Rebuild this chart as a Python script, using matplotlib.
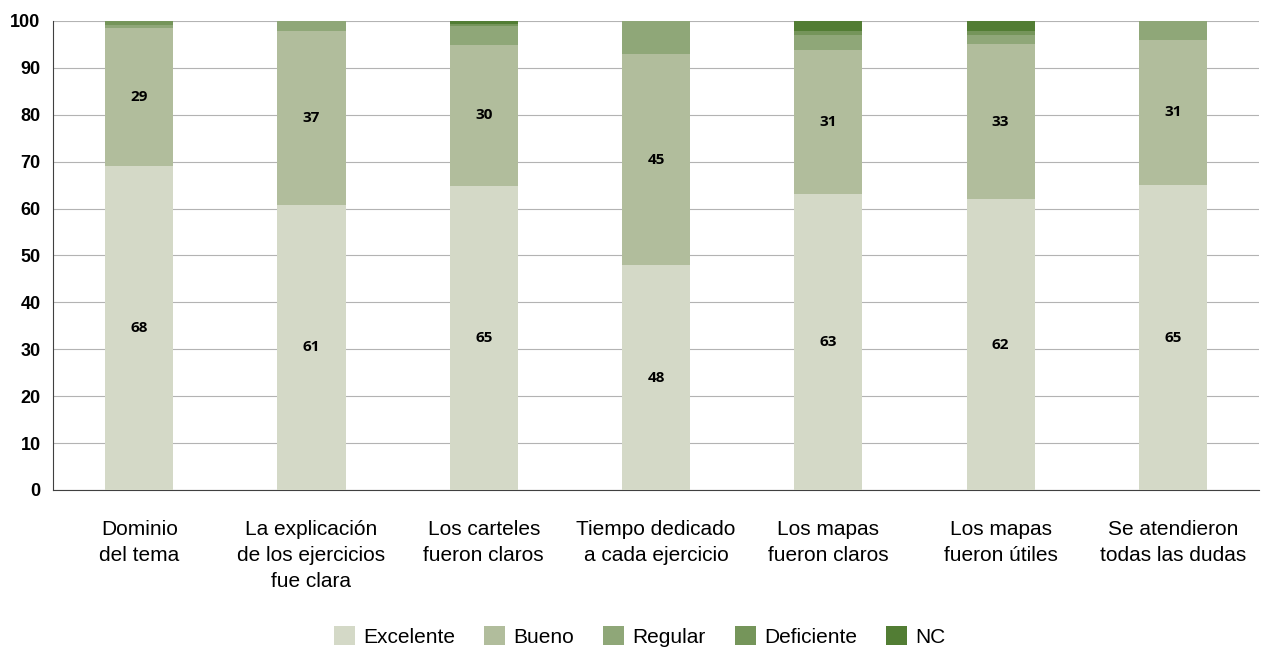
import matplotlib.pyplot as plt
import numpy as np

# Data
categories = ['Dominio\ndel tema', 'La explicación\nde los ejercicios\nfue clara', 'Los carteles\nfueron claros',
              'Tiempo dedicado\na cada ejercicio', 'Los mapas\nfueron claros', 'Los mapas\nfueron útiles',
              'Se atendieron\ntodas las dudas']
series_names = ['Excelente', 'Bueno', 'Regular', 'Deficiente', 'NC']
excelente = [69.0, 60.8, 64.8, 47.9, 63.1, 62.0, 65.0]
bueno = [29.5, 37.0, 30.1, 45.1, 30.7, 33.1, 31.0]
regular = [0.65, 2.2, 4.0, 7.0, 3.1, 1.9, 4.0]
deficiente = [0.85, 0.0, 0.4, 0.0, 0.9, 0.85, 0.0]
nc = [0.0, 0.0, 0.7, 0.0, 2.1, 2.1, 0.0]
excelente_labels = [68, 61, 65, 48, 63, 62, 65]
bueno_labels = [29, 37, 30, 45, 31, 33, 31]

colors = ['#d4d9c7', '#b1bd9c', '#8fa778', '#75955a', '#527d34']

cat_font = ['Liberation Sans', 'DejaVu Sans']

fig = plt.figure(figsize=(12.64, 6.55), dpi=100)
ax = fig.add_axes([0.042, 0.252, 0.954, 0.716])

x = np.arange(len(categories))
width = 0.395
bottom = np.zeros(len(categories))
for name, vals, col in zip(series_names, [excelente, bueno, regular, deficiente, nc], colors):
    ax.bar(x, vals, width, bottom=bottom, color=col, label=name, zorder=3)
    bottom += np.array(vals)

# Data labels for the two big segments
for i in range(len(categories)):
    ax.text(x[i], excelente[i] / 2, str(excelente_labels[i]), ha='center', va='center',
            fontsize=11, fontweight='bold', family=['Open Sans', 'DejaVu Sans'], zorder=4)
    ax.text(x[i], excelente[i] + bueno[i] / 2, str(bueno_labels[i]), ha='center', va='center',
            fontsize=11, fontweight='bold', family=['Open Sans', 'DejaVu Sans'], zorder=4)

ax.set_xlim(-0.5, len(categories) - 0.5)
ax.set_ylim(0, 100)
ax.set_yticks(range(0, 101, 10))
ax.yaxis.grid(True, color='#b3b3b3', linewidth=0.8, zorder=0)
ax.set_axisbelow(True)
ax.tick_params(axis='y', length=0, pad=9)
ax.tick_params(axis='x', length=0, pad=22)
for lbl in ax.get_yticklabels():
    lbl.set_family(cat_font)
    lbl.set_fontweight('bold')
    lbl.set_fontsize(13)
ax.set_xticks(x)
ax.set_xticklabels(categories, family=cat_font, fontsize=15, linespacing=1.45)

for s in ['top', 'right']:
    ax.spines[s].set_visible(False)
ax.spines['left'].set_color('#404040')
ax.spines['bottom'].set_color('#404040')

fig.legend(loc='center', bbox_to_anchor=(0.506, 0.028), ncol=5, frameon=False,
           prop={'family': cat_font, 'size': 15}, handlelength=1.0, handleheight=1.0,
           handletextpad=0.4, columnspacing=1.4)

fig.savefig('out.png', dpi=100)
